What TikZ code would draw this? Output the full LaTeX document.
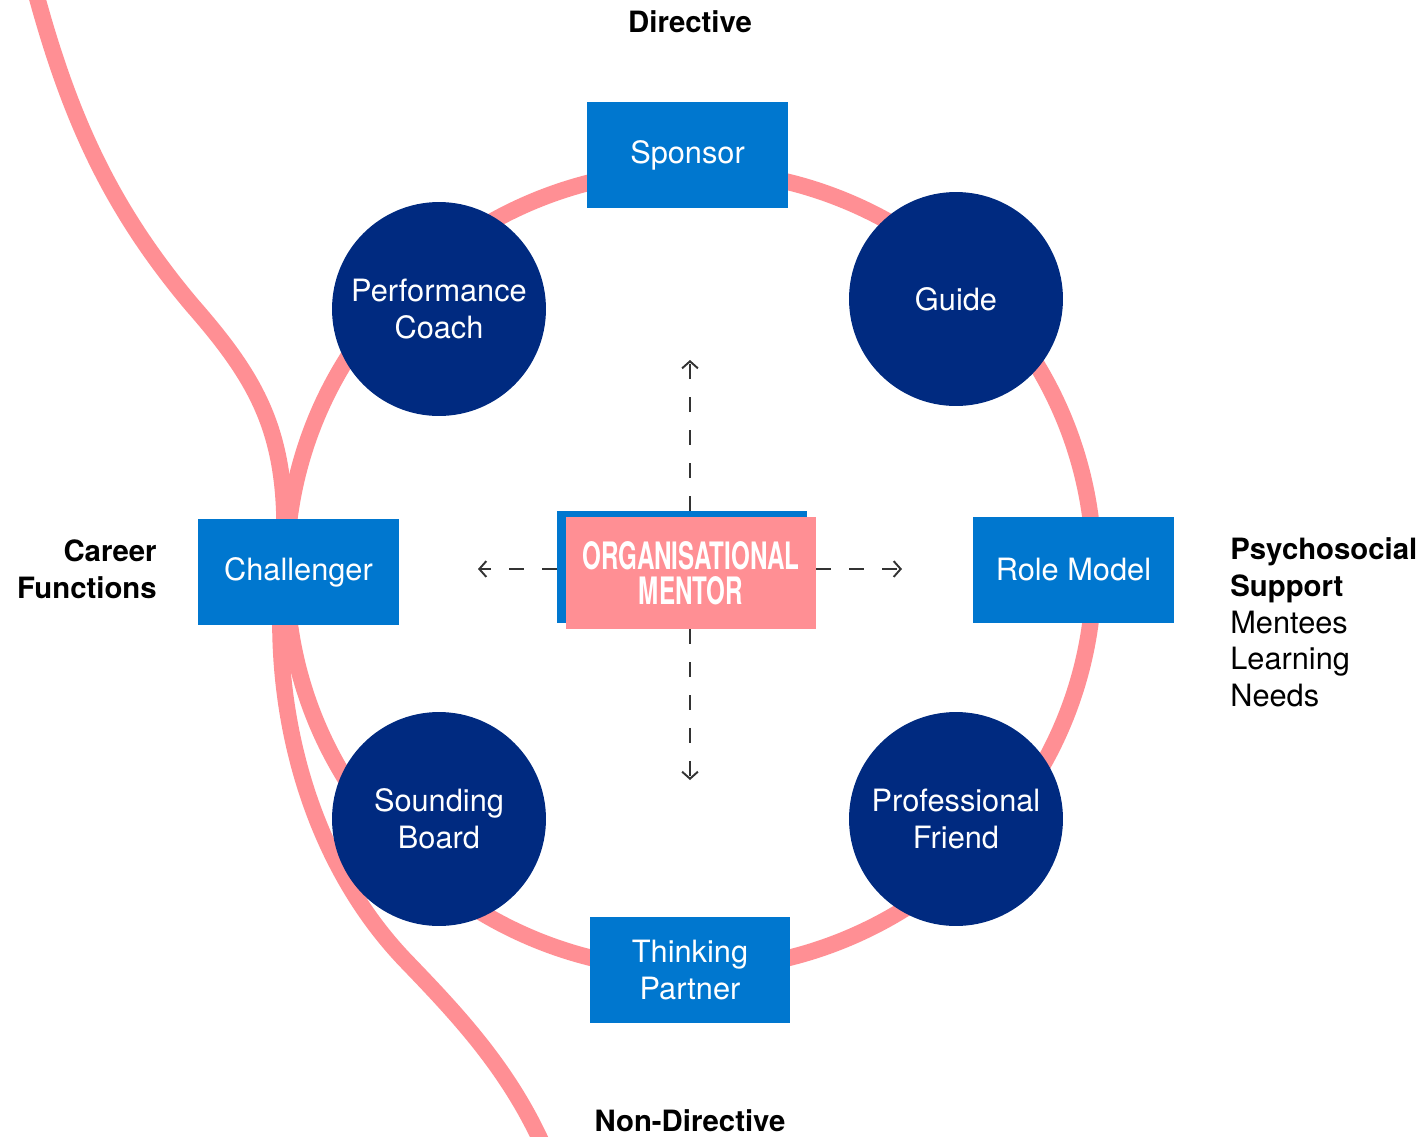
\documentclass[tikz,border=0pt]{standalone}
\usepackage{fontspec}
\setmainfont{TeX Gyre Heros}
\newfontfamily\condfont[FakeStretch=0.64]{TeX Gyre Heros}
\usepackage{tikz}
\usetikzlibrary{positioning,arrows.meta}
\definecolor{roleblue}{RGB}{0,119,207}
\definecolor{mentornavy}{RGB}{0,42,128}
\definecolor{ringpink}{RGB}{255,143,148}
\definecolor{dashgrey}{RGB}{51,51,51}
\tikzset{
  role box/.style={fill=roleblue, text=white, minimum width=4.02cm, minimum height=2.12cm,
    inner sep=0pt, align=center, font=\fontsize{17.5}{21}\selectfont},
  mentor circle/.style={circle, fill=mentornavy, text=white, minimum size=4.28cm,
    inner sep=0pt, align=center, font=\fontsize{17.5}{21}\selectfont},
  pink line/.style={draw=ringpink, line width=0.33cm},
  spread/.style={draw=dashgrey, line width=1.1pt, dash pattern=on 8.5pt off 10.2pt,
    -{Straight Barb[length=4pt, width=9pt]}},
  axis label/.style={font=\bfseries\fontsize{16.7}{21}\selectfont, inner sep=0pt}}

\begin{document}
\begin{tikzpicture}[x=0.02cm, y=-0.02cm]
        \useasboundingbox (0,0) rectangle (1418,1137);
        % ring and the career line
        \draw[pink line] (690,570) ellipse [x radius=8.08cm, y radius=8cm];
        \draw[pink line] (35,-10) .. controls (70,120) and (112,210) .. (192,305)
          .. controls (262,385) and (292,440) .. (283,570)
          .. controls (270,700) and (305,855) .. (405,960)
          .. controls (458,1015) and (510,1070) .. (545,1150);
        % arrow ends
        \coordinate (up)    at (690,360);
        \coordinate (down)  at (690,780);
        \coordinate (left)  at (478,569);
        \coordinate (right) at (902,569);
        % centre
        \node[fill=roleblue, minimum width=5cm, minimum height=2.24cm, inner sep=0pt]
          (mentorback) at (682,567) {};
        \draw[spread] (mentorback.north -| up) -- (up);
        \draw[spread] (mentorback.west |- left) -- (left);
        \node[fill=ringpink, minimum width=5cm, minimum height=2.24cm, inner sep=0pt,
          text=white, align=center, font=\condfont\bfseries\fontsize{21.5}{20}\selectfont]
          (mentor) at (691,573) {ORGANISATIONAL\\MENTOR};
        \draw[spread] (mentor.south -| down) -- (down);
        \draw[spread] (mentor.east |- right) -- (right);
        % roles
        \node[role box] (sponsor)    at (687.5,155)  {Sponsor};
        \node[role box] (challenger) at (298.5,572)  {Challenger};
        \node[role box] (rolemodel)  at (1073.5,570) {Role Model};
        \node[role box] (thinking)   at (690,970)    {Thinking\\ Partner};
        \node[mentor circle] (coach)  at (439,309) {Performance\\Coach};
        \node[mentor circle] (guide)  at (956,299) {Guide};
        \node[mentor circle] (board)  at (439,819) {Sounding\\Board};
        \node[mentor circle] (friend) at (956,819) {Professional\\Friend};
        % axes
        \node[axis label] (directive)    at (690,22)   {Directive};
        \node[axis label] (nondirective) at (690,1121) {Non-Directive};
        \node[axis label, align=right, anchor=east] (career) at (157,569) {Career\\Functions};
        \node[align=left, anchor=north west, font=\fontsize{17.5}{21}\selectfont,
          inner sep=0pt] (psycho) at (1230,537)
          {\textbf{\fontsize{16.7}{21}\selectfont Psychosocial}\\\textbf{\fontsize{16.7}{21}\selectfont Support}\\Mentees\\Learning\\Needs};
      \end{tikzpicture}
\end{document}
